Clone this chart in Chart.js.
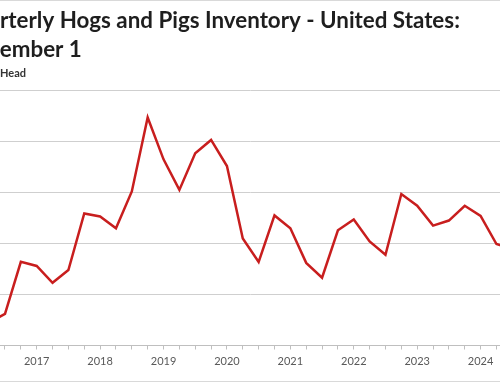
<!DOCTYPE html>
<html><head><meta charset="utf-8">
<script src="https://cdn.jsdelivr.net/npm/chart.js@4.4.1/dist/chart.umd.min.js"></script>
<style>
html,body{margin:0;padding:0;width:500px;height:383px;overflow:hidden;background:#fff;}
#wrap{position:absolute;left:-60px;top:0;width:620px;height:383px;}
canvas{display:block;}
</style></head><body>
<div id="wrap"><canvas id="c" width="620" height="383"></canvas></div>
<script>
// Quarterly observation dates (first of the month)
const quarters = [
  'Jun 2016','Sep 2016','Dec 2016',
  'Mar 2017','Jun 2017','Sep 2017','Dec 2017',
  'Mar 2018','Jun 2018','Sep 2018','Dec 2018',
  'Mar 2019','Jun 2019','Sep 2019','Dec 2019',
  'Mar 2020','Jun 2020','Sep 2020','Dec 2020',
  'Mar 2021','Jun 2021','Sep 2021','Dec 2021',
  'Mar 2022','Jun 2022','Sep 2022','Dec 2022',
  'Mar 2023','Jun 2023','Sep 2023','Dec 2023',
  'Mar 2024','Jun 2024','Sep 2024'
];
// Inventory, 1,000 head
const inventory = [
  68450, 68620, 69640,
  69560, 69230, 69480, 70590,
  70530, 70300, 71020, 72470,
  71650, 71050, 71770, 72030,
  71520, 70100, 69640, 70550,
  70300, 69620, 69330, 70260,
  70470, 70040, 69780, 70970,
  70740, 70350, 70450, 70740,
  70540, 69990, 69890
];
const yMin = 68000, yMax = 73000, yStep = 1000;
const titleLines = ['Quarterly Hogs and Pigs Inventory - United States:', 'December 1'];
const unitLabel = '1,000 Head';

const OFF = 60; // page is a crop of a wider chart
const chromePlugin = {
  id: 'chrome',
  afterDraw(chart) {
    const ctx = chart.ctx;
    ctx.save();
    // outer chart border (top and bottom visible)
    ctx.strokeStyle = '#d9d9d9';
    ctx.lineWidth = 1;
    ctx.beginPath();
    ctx.moveTo(0, 0.5); ctx.lineTo(chart.width, 0.5);
    ctx.moveTo(0, 381.5); ctx.lineTo(chart.width, 381.5);
    ctx.stroke();
    // title
    ctx.fillStyle = '#1e1e1e';
    ctx.textBaseline = 'alphabetic';
    ctx.textAlign = 'left';
    ctx.font = 'bold 20px Lato';
    const w20 = ctx.measureText(titleLines[0].slice(3)).width;
    const fs = 20 * 460 / w20;
    ctx.font = 'bold ' + fs.toFixed(2) + 'px Lato';
    ctx.fillText(titleLines[0], OFF - ctx.measureText(titleLines[0].slice(0,3)).width, 27.5);
    ctx.fillText(titleLines[1], OFF - ctx.measureText(titleLines[1].slice(0,3)).width, 56.5);
    ctx.font = 'bold 11px Lato';
    ctx.fillStyle = '#333';
    ctx.fillText(unitLabel, OFF - ctx.measureText('1,000 ').width, 77);
    ctx.restore();
  }
};

new Chart(document.getElementById('c'), {
  type: 'line',
  data: {
    labels: quarters,
    datasets: [{
      data: inventory,
      borderColor: '#c81e1e',
      borderWidth: 2.5,
      pointRadius: 0,
      tension: 0,
      fill: false
    }]
  },
  options: {
    responsive: false,
    animation: false,
    events: [],
    layout: { autoPadding: false, padding: { top: 90.5, right: 47.7, bottom: 0, left: 0 } },
    plugins: { legend: { display: false }, title: { display: false }, tooltip: { enabled: false } },
    scales: {
      x: {
        type: 'category',
        offset: false,
        afterFit(s) { s.height = 37.5; },
        grid: { drawOnChartArea: false, drawTicks: true, tickLength: 4, color: '#bfbfbf', lineWidth: 1 },
        border: { display: true, color: '#bfbfbf', width: 1 },
        ticks: {
          autoSkip: false, maxRotation: 0, minRotation: 0, padding: 5.5,
          color: '#595959', font: { family: 'Lato', size: 11 },
          callback(v, i) { const q = quarters[i]; return q.startsWith('Mar') ? q.slice(4) : ''; }
        }
      },
      y: {
        min: yMin, max: yMax,
        afterFit(s) { s.width = 49.14; },
        grid: { color: '#cfcfcf', lineWidth: 1, drawTicks: false },
        border: { display: false },
        ticks: { stepSize: yStep, color: '#595959', font: { family: 'Lato', size: 11 }, padding: 6 }
      }
    }
  },
  plugins: [chromePlugin]
});
</script>
</body></html>
